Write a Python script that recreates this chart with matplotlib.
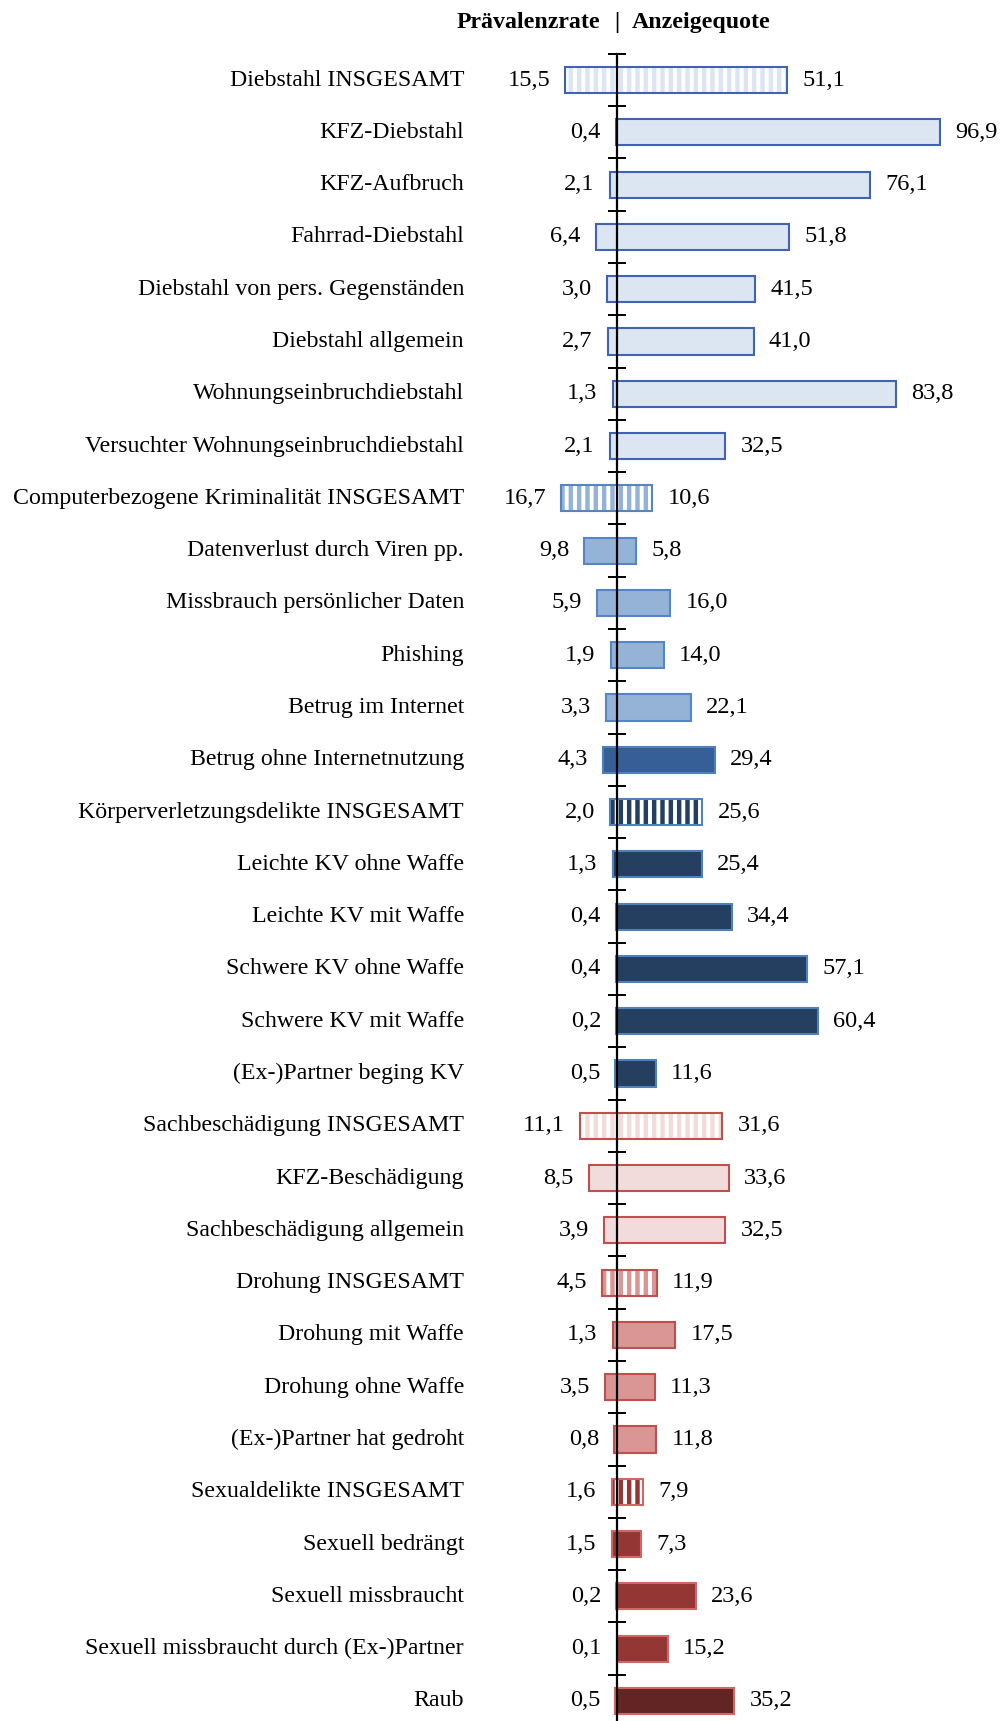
#!/usr/bin/env python3
# -*- coding: utf-8 -*-
"""Prevalence rate vs. reporting rate per offence, butterfly-style bar chart."""

import matplotlib

matplotlib.use("Agg")
import matplotlib.pyplot as plt
import matplotlib.transforms as mtransforms

labels = [
    "Diebstahl INSGESAMT",
    "KFZ-Diebstahl",
    "KFZ-Aufbruch",
    "Fahrrad-Diebstahl",
    "Diebstahl von pers. Gegenständen",
    "Diebstahl allgemein",
    "Wohnungseinbruchdiebstahl",
    "Versuchter Wohnungseinbruchdiebstahl",
    "Computerbezogene Kriminalität INSGESAMT",
    "Datenverlust durch Viren pp.",
    "Missbrauch persönlicher Daten",
    "Phishing",
    "Betrug im Internet",
    "Betrug ohne Internetnutzung",
    "Körperverletzungsdelikte INSGESAMT",
    "Leichte KV ohne Waffe",
    "Leichte KV mit Waffe",
    "Schwere KV ohne Waffe",
    "Schwere KV mit Waffe",
    "(Ex-)Partner beging KV",
    "Sachbeschädigung INSGESAMT",
    "KFZ-Beschädigung",
    "Sachbeschädigung allgemein",
    "Drohung INSGESAMT",
    "Drohung mit Waffe",
    "Drohung ohne Waffe",
    "(Ex-)Partner hat gedroht",
    "Sexualdelikte INSGESAMT",
    "Sexuell bedrängt",
    "Sexuell missbraucht",
    "Sexuell missbraucht durch (Ex-)Partner",
    "Raub",
]
praevalenz = [15.5, 0.4, 2.1, 6.4, 3.0, 2.7, 1.3, 2.1,
              16.7, 9.8, 5.9, 1.9, 3.3, 4.3,
              2.0, 1.3, 0.4, 0.4, 0.2, 0.5,
              11.1, 8.5, 3.9,
              4.5, 1.3, 3.5, 0.8,
              1.6, 1.5, 0.2, 0.1, 0.5]
anzeige = [51.1, 96.9, 76.1, 51.8, 41.5, 41.0, 83.8, 32.5,
           10.6, 5.8, 16.0, 14.0, 22.1, 29.4,
           25.6, 25.4, 34.4, 57.1, 60.4, 11.6,
           31.6, 33.6, 32.5,
           11.9, 17.5, 11.3, 11.8,
           7.9, 7.3, 23.6, 15.2, 35.2]
groups = (["diebstahl"] * 8 + ["computer"] * 5 + ["betrug"] + ["kv"] * 6
          + ["sach"] * 3 + ["drohung"] * 4 + ["sexual"] * 4 + ["raub"])
totals = [0, 8, 14, 20, 23, 27]

# group -> (fill colour, edge colour)
STYLE = {
    "diebstahl": ("#DCE5F2", "#4163B6"),
    "computer": ("#95B3D7", "#5585C4"),
    "betrug": ("#355F96", "#4F7FBD"),
    "kv": ("#243F60", "#4F81BD"),
    "sach": ("#F2DCDB", "#C0504D"),
    "drohung": ("#D99694", "#C0504D"),
    "sexual": ("#943634", "#D46565"),
    "raub": ("#632523", "#D46565"),
}

PX_PER_UNIT = 3.33
AXIS_PX = 617.0
W, H = 1000, 1721
LABEL_FS = 17.2
VALUE_FS = 17.6
TITLE_FS = 17.2

plt.rcParams["font.family"] = ["Liberation Serif", "DejaVu Serif"]
plt.rcParams["hatch.linewidth"] = 3.2

fig = plt.figure(figsize=(W / 100, H / 100), dpi=100)
fig.patch.set_facecolor("white")
ax = fig.add_axes([0, -0.0035, 1, 0.9722])
ax.set_xlim(-AXIS_PX / PX_PER_UNIT, (W - AXIS_PX) / PX_PER_UNIT)
n = len(labels)
ax.set_ylim(n - 0.5, -0.5)

for i, (p, a, g) in enumerate(zip(praevalenz, anzeige, groups)):
    fill, edge = STYLE[g]
    if i in totals:
        ax.barh(i, p + a, left=-p, height=0.5, color="white", edgecolor=fill,
                hatch="||", linewidth=0, zorder=2)
        ax.barh(i, p + a, left=-p, height=0.5, fill=False, edgecolor=edge,
                linewidth=1.5, zorder=3)
    else:
        ax.barh(i, p + a, left=-p, height=0.5, color=fill, edgecolor=edge,
                linewidth=1.5, zorder=2)
    ax.annotate(f"{p:.1f}".replace(".", ","), (-p, i), xytext=(-11, 0),
                textcoords="offset points", ha="right", va="center", fontsize=VALUE_FS)
    ax.annotate(f"{a:.1f}".replace(".", ","), (a, i), xytext=(11, 0),
                textcoords="offset points", ha="left", va="center", fontsize=VALUE_FS)

# category labels, right aligned left of the value labels
trans = mtransforms.blended_transform_factory(fig.transFigure, ax.transData)
for i, lab in enumerate(labels):
    ax.text(0.464, i, lab, transform=trans, ha="right", va="center", fontsize=LABEL_FS)

# central axis with crossing ticks between categories
for s in ["top", "right", "bottom"]:
    ax.spines[s].set_visible(False)
ax.spines["left"].set_position(("data", 0))
ax.spines["left"].set_linewidth(1.6)
ax.spines["left"].set_zorder(4)
ax.set_yticks([k - 0.5 for k in range(n + 1)])
ax.tick_params(axis="y", direction="inout", length=13, width=1.4, labelleft=False)
ax.set_xticks([])

ty = -1.1
ax.text(-5.0, ty, "Prävalenzrate", ha="right", va="center", fontsize=TITLE_FS,
        fontweight="bold", clip_on=False)
ax.text(0, ty, "|", ha="center", va="center", fontsize=TITLE_FS,
        fontweight="bold", clip_on=False)
ax.text(4.5, ty, "Anzeigequote", ha="left", va="center", fontsize=TITLE_FS,
        fontweight="bold", clip_on=False)

fig.savefig("out.png", dpi=100)
plt.close(fig)
